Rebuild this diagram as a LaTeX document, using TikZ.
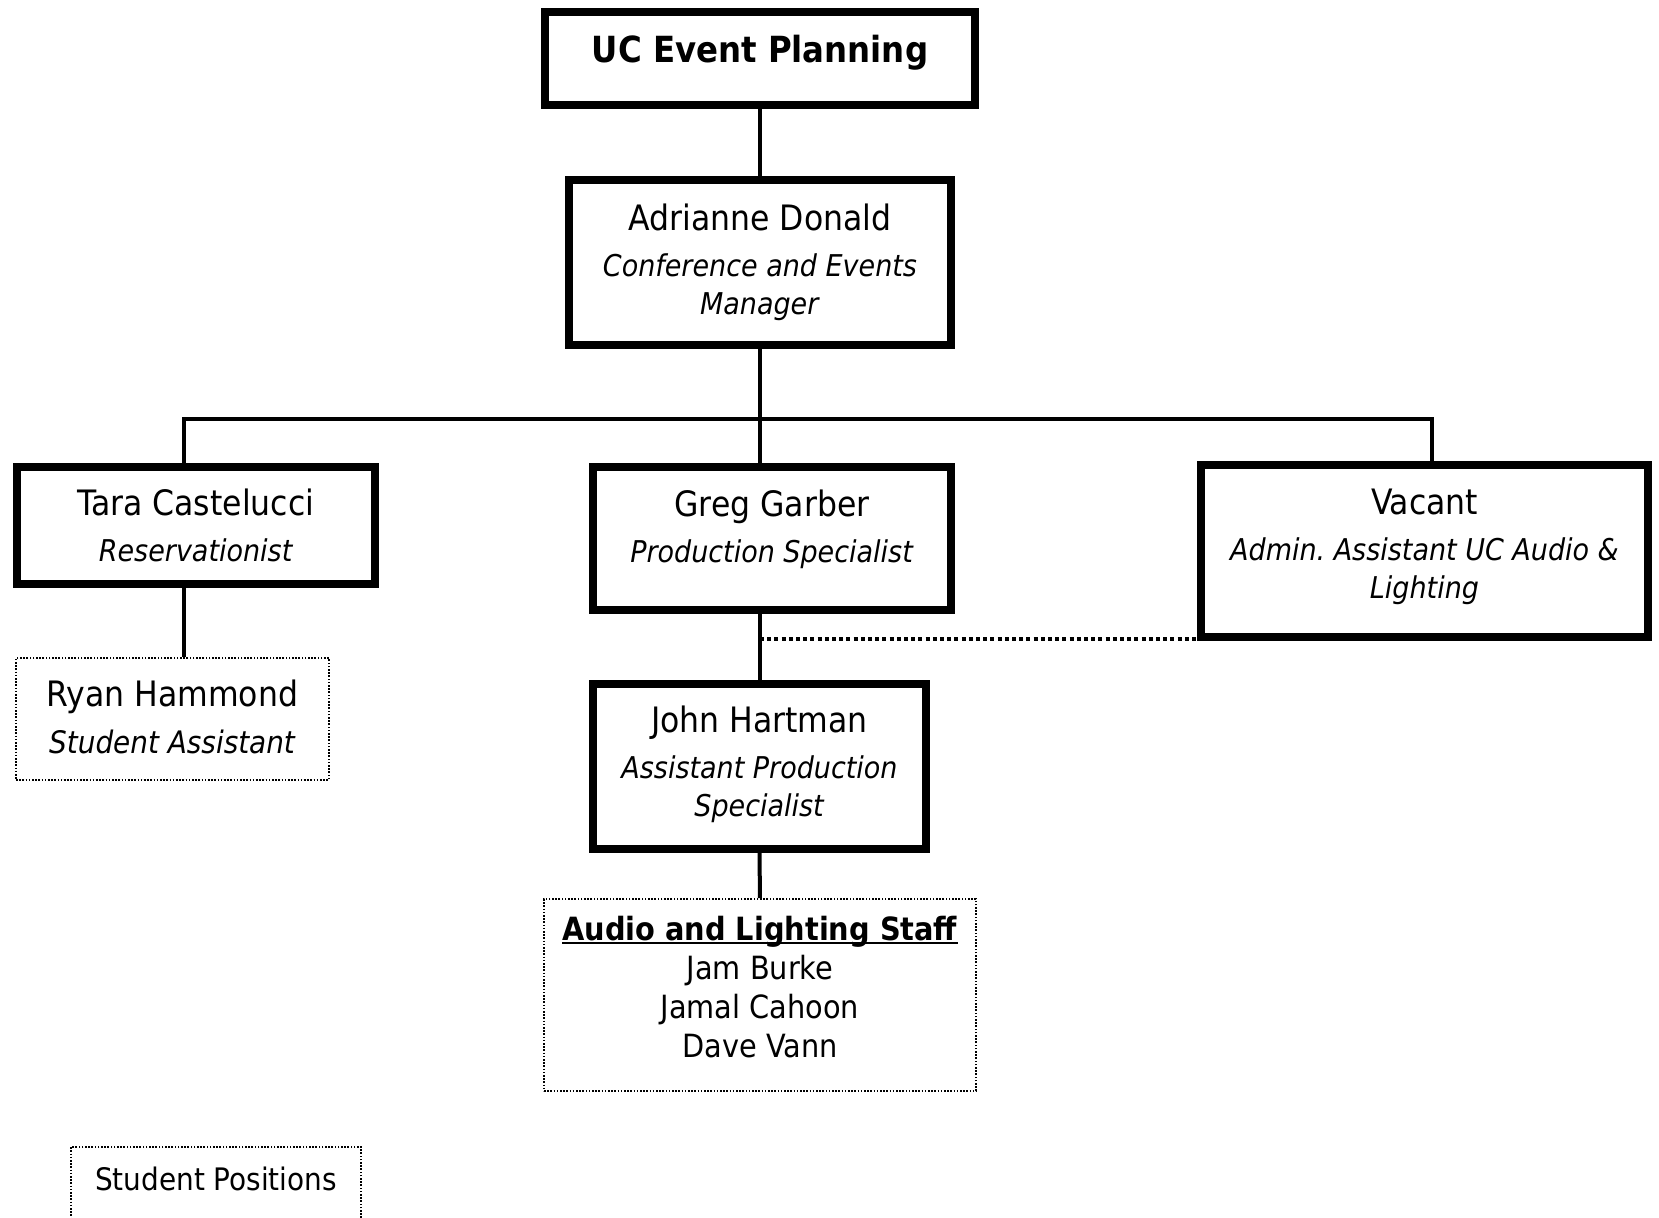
\documentclass[tikz,border=0pt]{standalone}
\usepackage{fontspec}
\setmainfont{DejaVu Sans Condensed}
\usetikzlibrary{calc}
\newcommand{\who}[1]{{\fontsize{17.5}{19}\selectfont #1}}
\newcommand{\role}[1]{\textit{#1}}
\newcommand{\staffhead}[1]{\setbox0\hbox{\textbf{#1}}%
  \leavevmode\rlap{\raisebox{-2pt}{\rule{\wd0}{1.2pt}}}\box0}

\begin{document}
\begin{tikzpicture}[x=0.5pt,y=-0.5pt,
    post/.style={draw,line width=4pt,align=center,inner sep=0pt,
      font=\fontsize{15}{19}\selectfont},
    student/.style={draw,line width=0.8pt,dash pattern=on 0.8pt off 0.8pt,
      align=center,inner sep=0pt,font=\fontsize{15.5}{19.5}\selectfont},
    link/.style={line width=2pt}]
  \useasboundingbox (0,0) rectangle (1659,1217);
  % boxes
  \node[post,minimum width=215pt,minimum height=46.5pt,text depth=9.5pt] (top) at (760,58.5)
    {\fontsize{18}{22}\selectfont\bfseries UC Event Planning};
  \node[post,minimum width=191pt,minimum height=82.5pt] (adr) at (760,262.5)
    {\who{Adrianne Donald}\\[4pt]\role{Conference and Events}\\\role{Manager}};
  \node[post,minimum width=179pt,minimum height=58.5pt] (tara) at (196,525.5)
    {\who{Tara Castelucci}\\[4pt]\role{Reservationist}};
  \node[post,minimum width=179pt,minimum height=71.5pt,text depth=12pt] (greg) at (772,538.5)
    {\who{Greg Garber}\\[4pt]\role{Production Specialist}};
  \node[post,minimum width=223.5pt,minimum height=86pt,text depth=7.7pt] (vacant) at (1424.5,551)
    {\who{Vacant}\\[4pt]\role{Admin.\ Assistant UC Audio \&}\\\role{Lighting}};
  \node[post,minimum width=166.5pt,minimum height=82.5pt,text depth=5.5pt] (john) at (759.5,766.5)
    {\who{John Hartman}\\[4pt]\role{Assistant Production}\\\role{Specialist}};
  \node[student,minimum width=156.5pt,minimum height=61pt,text depth=2pt] (ryan) at (172.5,719)
    {\who{Ryan Hammond}\\[4pt]\role{Student Assistant}};
  \node[student,minimum width=216pt,minimum height=96pt,text depth=8.5pt,
    font=\fontsize{16}{19.5}\selectfont] (audio) at (760,995)
    {\staffhead{Audio and Lighting Staff}\\Jam Burke\\Jamal Cahoon\\Dave Vann};
  \node[student,anchor=north,minimum width=145pt,inner ysep=10pt,text depth=30pt]
    (key) at (216,1146) {Student Positions};
  % connectors
  \coordinate (barL) at (184,419);
  \coordinate (barR) at (1432,419);
  \coordinate (dotL) at (760,639);
  \draw[link] (top) -- (adr);
  \draw[link] (adr.south) -- (adr.south |- greg.north);
  \draw[link] (barL |- tara.north) -- (barL) -- (barR) -- (barR |- vacant.north);
  \draw[link] (barL |- tara.south) -- (barL |- ryan.north);
  \draw[link] (john.north) -- (john.north |- greg.south);
  \draw[link,dash pattern=on 2pt off 1.6pt] (dotL) -- (dotL -| vacant.west);
  \draw[link] (john) -- (audio);
\end{tikzpicture}
\end{document}
